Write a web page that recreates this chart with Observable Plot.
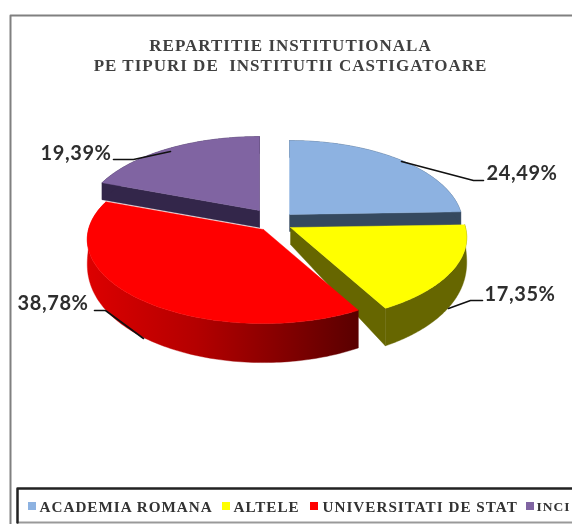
<!DOCTYPE html>
<html>
<head>
<meta charset="utf-8">
<script src="https://cdn.jsdelivr.net/npm/d3@7"></script>
<script src="https://cdn.jsdelivr.net/npm/@observablehq/plot@0.6"></script>
<style>
html,body{margin:0;padding:0;background:#fff;overflow:hidden}
svg{display:block;filter:blur(0.5px)}
.ttl text{white-space:pre;letter-spacing:1px}
.lgd text{letter-spacing:1px}
.val text{letter-spacing:0.6px}
</style>
</head>
<body>
<script>
// ---- chart values
const categories = ["ACADEMIA ROMANA", "ALTELE", "UNIVERSITATI DE STAT", "INCI"];
const shares = [24.49, 17.35, 38.78, 19.39];
const shareLabels = ["24,49%", "17,35%", "38,78%", "19,39%"];
const colors = ["#8db2e1", "#ffff00", "#ff0000", "#8064a2"];
const wallColors = ["#35495f", "#666600", "#660000", "#33264a"];
const titleLines = ["REPARTITIE INSTITUTIONALA", "PE TIPURI DE  INSTITUTII CASTIGATOARE"];

// ---- layout of the drawing (pie projection, not data)
const W = 572, H = 524;
const centers = [[289, 214], [290, 227], [263, 229], [259, 210]];
const radiiX = [172, 175, 175, 175];
const ry = 84, persp = 0.12;
const labelPos = [[486, 173], [484, 294], [17, 303], [40, 153]];
const leaders = [
  [[401, 161], [473, 180], [483, 180]],
  [[448, 308], [470, 300], [482, 300]],
  [[94, 310], [105, 310], [143, 338]],
  [[113, 159], [133, 159], [170, 151]]
];
const legendSwatch = [28, 222, 310, 526];
const legendText = [39, 233, 322, 536];
const legendSize = [15.2, 15.2, 15.2, 13.5];

// ---- geometry from the shares
const total = d3.sum(shares);
let acc = 0;
const slices = shares.map((v, i) => {
  const a0 = acc / total * 2 * Math.PI; acc += v;
  return {i, a0, a1: acc / total * 2 * Math.PI};
});
const project = (i, a) => {
  const z = -Math.cos(a), s = 1 + persp * z, [cx, cy] = centers[i];
  return {x: cx + radiiX[i] * Math.sin(a) * s, y: cy - ry * Math.cos(a) * s, z};
};
const drop = z => 17 + 22 * Math.sqrt(Math.max(z, 0));
const arc = (i, a0, a1) => d3.range(0, 121).map(k => project(i, a0 + (a1 - a0) * k / 120));
const apex = i => ({x: centers[i][0], y: centers[i][1], z: 0});
const down = p => ({x: p.x, y: p.y + drop(p.z)});
const topFace = s => { const A = apex(s.i); return [A, ...arc(s.i, s.a0, s.a1), A]; };
const outerWall = s => { const P = arc(s.i, s.a0, s.a1); return [...P, ...P.slice().reverse().map(down), P[0]]; };
const startWall = s => { const A = apex(s.i), E = project(s.i, s.a0); return [A, E, down(E), down(A), A]; };
const endWall = s => { const A = apex(s.i), E = project(s.i, s.a1); return [A, E, down(E), down(A), A]; };

const poly = (pts, fill) => Plot.line(pts, {x: "x", y: "y", fill, stroke: fill, strokeWidth: 0.4, curve: "linear"});
const defs = () => {
  const d = d3.create("svg:defs");
  const g = d.append("linearGradient").attr("id", "redSide").attr("gradientUnits", "userSpaceOnUse")
    .attr("x1", 88).attr("x2", 357).attr("y1", 0).attr("y2", 0);
  [[0, "#dc0000"], [0.4, "#b40000"], [0.75, "#800000"], [1, "#5a0000"]].forEach(([o, c]) =>
    g.append("stop").attr("offset", o).attr("stop-color", c));
  return d.node();
};

const [blue, yellow, red, purple] = slices;
const xy = ([x, y]) => ({x, y});

document.body.append(Plot.plot({
  width: W, height: H, margin: 0,
  style: {background: "#fff"},
  x: {domain: [0, W], range: [0, W], axis: null},
  y: {domain: [0, H], range: [0, H], axis: null},
  marks: [
    defs,
    // outer frame
    Plot.line([[W, 15], [10, 15], [10, H]].map(xy), {x: "x", y: "y", stroke: "#808080", strokeWidth: 2}),
    // title
    Plot.text(titleLines, {
      x: () => 290, y: (d, i) => 45 + i * 20, text: d => d, className: "ttl",
      fontFamily: "Liberation Serif", fontWeight: "bold", fontSize: 17, fill: "#404040"
    }),
    // back slices
    poly(startWall(purple), wallColors[3]),
    poly(outerWall(purple), wallColors[3]),
    poly(endWall(purple), wallColors[3]),
    poly(topFace(purple), colors[3]),
    poly(endWall(blue), wallColors[0]),
    poly(outerWall(blue), wallColors[0]),
    poly(topFace(blue), colors[0]),
    // front slices
    poly(outerWall(yellow), wallColors[1]),
    poly(endWall(yellow), wallColors[1]),
    poly(topFace(yellow), colors[1]),
    poly(outerWall(red), "url(#redSide)"),
    poly(topFace(red), colors[2]),
    // leader lines
    ...leaders.map(l => Plot.line(l.map(xy), {x: "x", y: "y", stroke: "#111", strokeWidth: 1.6})),
    // value labels
    Plot.text(shareLabels, {
      x: (d, i) => labelPos[i][0], y: (d, i) => labelPos[i][1], text: d => d, textAnchor: "start",
      className: "val", fontFamily: "Lato", fontWeight: "bold", fontSize: 20, fill: "#2e2e2e"
    }),
    // legend box
    Plot.line([[W, 522], [17, 522]].map(xy), {x: "x", y: "y", stroke: "#999", strokeWidth: 2}),
    Plot.line([[W, 488], [17, 488], [17, 522]].map(xy), {x: "x", y: "y", stroke: "#222", strokeWidth: 2.5}),
    Plot.rect(categories, {
      x1: (d, i) => legendSwatch[i], x2: (d, i) => legendSwatch[i] + 8,
      y1: () => 502, y2: () => 510, fill: (d, i) => colors[i], stroke: "none"
    }),
    ...categories.map((c, i) => Plot.text([c], {
      x: () => legendText[i], y: () => 506.5, text: d => d, textAnchor: "start", className: "lgd",
      fontFamily: "Liberation Serif", fontWeight: "bold", fontSize: legendSize[i], fill: "#333"
    }))
  ]
}));
</script>
</body>
</html>
